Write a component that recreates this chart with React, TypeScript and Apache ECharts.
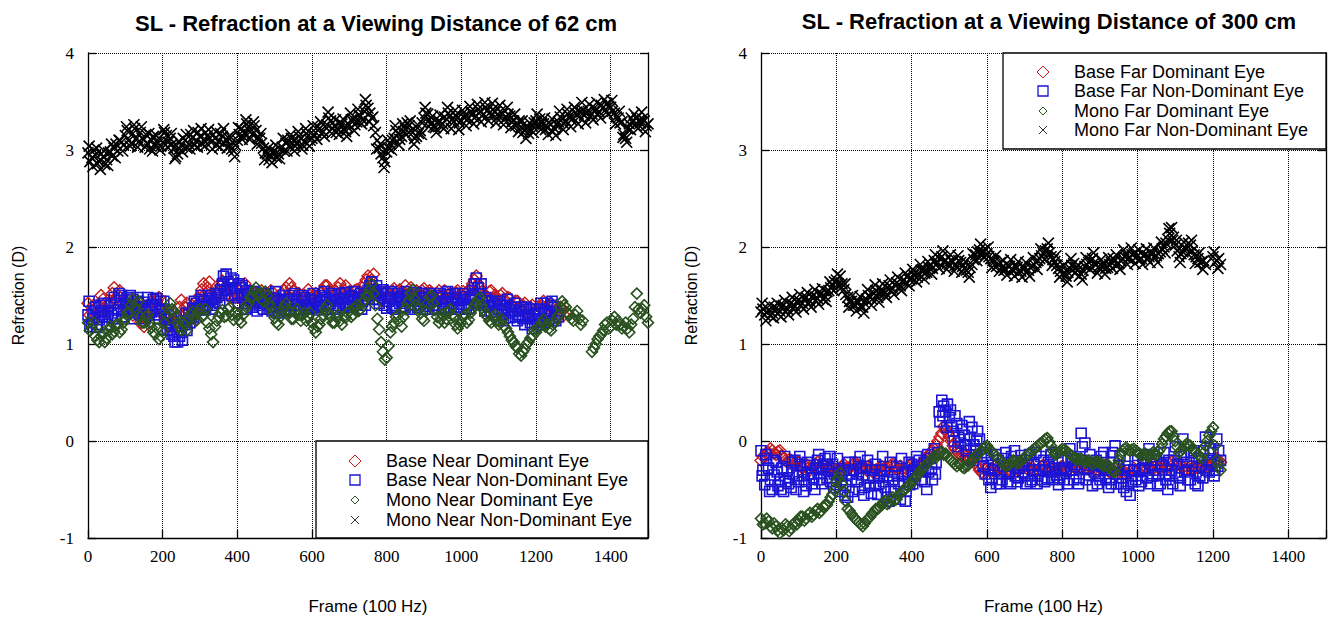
import React, { useEffect, useRef } from 'react';
import * as echarts from 'echarts';

// Values: main arrays at frames 0,10,20,...,
// mid arrays at frames 5,15,25,..., alt arrays at frames 3,13,23,...
const STEP = 10;

// ---- Left panel: viewing distance 62 cm ----
const nearBaseDom = [
  1.42,1.35,1.28,1.40,1.46,1.32,1.44,1.58,1.50,1.42,
  1.36,1.45,1.30,1.40,1.22,1.18,1.35,1.44,1.38,1.48,
  1.32,1.26,1.20,1.15,1.28,1.45,1.38,1.33,1.22,1.40,
  1.50,1.62,1.58,1.52,1.46,1.55,1.65,1.60,1.48,1.56,
  1.42,1.52,1.62,1.47,1.40,1.53,1.45,1.50,1.42,1.55,
  1.47,1.38,1.52,1.58,1.62,1.55,1.48,1.42,1.50,1.56,
  1.44,1.52,1.47,1.55,1.60,1.53,1.46,1.58,1.51,1.60,
  1.54,1.48,1.56,1.50,1.62,1.70,1.66,1.58,1.52,1.45,
  1.55,1.50,1.57,1.49,1.54,1.60,1.52,1.46,1.55,1.50,
  1.57,1.48,1.53,1.47,1.55,1.50,1.46,1.52,1.48,1.55,
  1.50,1.47,1.56,1.62,1.70,1.58,1.52,1.48,1.55,1.50,
  1.45,1.52,1.42,1.47,1.38,1.44,1.35,1.42,1.32,1.40,
  1.30,1.38,1.44,1.35,1.42,1.37,1.30,1.36,1.33,
];
const nearBaseDomMid = [
  1.30,1.40,1.34,1.50,1.38,1.40,1.52,1.46,1.55,1.38,
  1.42,1.36,1.44,1.30,1.28,1.26,1.40,1.34,1.45,1.38,
  1.28,1.18,1.25,1.22,1.38,1.32,1.42,1.26,1.32,1.46,
  1.56,1.52,1.64,1.45,1.52,1.60,1.55,1.52,1.62,1.48,
  1.48,1.58,1.52,1.44,1.48,1.42,1.55,1.46,1.50,1.45,
  1.42,1.46,1.55,1.50,1.58,1.45,1.52,1.47,1.44,1.50,
  1.50,1.45,1.53,1.60,1.55,1.48,1.54,1.62,1.56,1.52,
  1.50,1.55,1.48,1.58,1.66,1.62,1.72,1.50,1.48,1.52,
  1.48,1.55,1.52,1.56,1.50,1.54,1.58,1.52,1.47,1.55,
  1.52,1.55,1.48,1.52,1.48,1.55,1.50,1.45,1.53,1.48,
  1.54,1.52,1.50,1.66,1.62,1.54,1.48,1.54,1.47,1.48,
  1.50,1.46,1.48,1.40,1.44,1.38,1.40,1.36,1.38,1.34,
  1.35,1.40,1.38,1.40,1.33,1.34,1.38,1.30,
];
const nearBaseNonDom = [
  1.30,1.22,1.38,1.25,1.34,1.20,1.40,1.48,1.35,1.50,
  1.42,1.33,1.46,1.38,1.30,1.43,1.48,1.33,1.41,1.26,
  1.36,1.22,1.15,1.08,1.02,1.12,1.20,1.30,1.37,1.42,
  1.38,1.44,1.40,1.47,1.43,1.50,1.62,1.72,1.58,1.66,
  1.50,1.58,1.42,1.52,1.38,1.47,1.40,1.36,1.44,1.38,
  1.47,1.32,1.42,1.36,1.50,1.40,1.46,1.35,1.48,1.41,
  1.37,1.45,1.50,1.39,1.46,1.42,1.50,1.40,1.47,1.53,
  1.43,1.49,1.41,1.52,1.46,1.55,1.64,1.50,1.42,1.56,
  1.37,1.48,1.40,1.52,1.44,1.38,1.50,1.45,1.53,1.41,
  1.47,1.39,1.50,1.44,1.36,1.48,1.42,1.51,1.38,1.45,
  1.41,1.49,1.37,1.55,1.68,1.52,1.40,1.45,1.33,1.42,
  1.36,1.30,1.40,1.27,1.35,1.24,1.38,1.20,1.30,1.16,
  1.26,1.36,1.22,1.42,1.30,1.38,1.28,
];
const nearBaseNonDomMid = [
  1.18,1.32,1.20,1.40,1.28,1.34,1.26,1.42,1.45,1.34,
  1.48,1.40,1.32,1.44,1.38,1.30,1.40,1.46,1.30,1.44,
  1.28,1.30,1.10,1.18,1.08,1.24,1.14,1.26,1.44,1.35,
  1.46,1.38,1.45,1.40,1.48,1.56,1.55,1.64,1.50,1.58,
  1.62,1.48,1.55,1.44,1.50,1.42,1.46,1.42,1.36,1.45,
  1.38,1.45,1.34,1.46,1.44,1.36,1.40,1.44,1.38,1.46,
  1.42,1.38,1.44,1.48,1.40,1.46,1.44,1.52,1.42,1.46,
  1.50,1.44,1.48,1.44,1.52,1.60,1.56,1.46,1.52,1.48,
  1.44,1.38,1.48,1.42,1.50,1.45,1.40,1.50,1.44,1.48,
  1.42,1.46,1.40,1.50,1.44,1.38,1.47,1.42,1.48,1.38,
  1.46,1.40,1.48,1.62,1.58,1.44,1.48,1.38,1.40,1.34,
  1.40,1.36,1.32,1.38,1.28,1.34,1.26,1.36,1.22,1.30,
  1.32,1.24,1.34,1.26,1.40,1.32,
];
const nearBaseNonDomAlt = [
  1.44,1.26,1.17,1.33,1.42,1.28,1.32,1.26,1.52,1.28,
  1.36,1.50,1.26,1.48,1.36,1.26,1.30,1.40,1.47,1.34,
  1.44,1.14,1.26,1.02,1.18,1.04,1.32,1.22,1.28,1.36,
  1.50,1.35,1.50,1.36,1.52,1.42,1.70,1.56,1.68,1.48,
  1.42,1.60,1.36,1.46,1.54,1.34,1.52,1.48,1.52,1.34,
  1.54,1.40,1.50,1.44,1.34,1.52,1.36,1.50,1.40,1.36,
  1.52,1.35,1.40,1.54,1.36,1.52,1.36,1.46,1.38,1.40,
  1.38,1.54,1.46,1.36,1.40,1.50,1.46,1.60,1.54,1.40,
  1.52,1.54,1.36,1.46,1.38,1.54,1.36,1.40,1.38,1.52,
  1.36,1.52,1.36,1.40,1.52,1.36,1.54,1.36,1.52,1.36,
  1.52,1.36,1.46,1.50,1.42,1.62,1.34,1.38,1.44,1.30,
  1.44,1.24,1.46,1.34,1.42,1.30,1.28,1.38,1.28,1.36,
  1.20,1.42,1.32,1.24,1.44,1.24,
];
const nearMonoDom = [
  1.22,1.16,1.08,1.02,1.12,1.06,1.18,1.13,1.20,1.15,
  1.26,1.32,1.46,1.36,1.28,1.22,1.30,1.17,1.10,1.05,
  1.14,1.30,1.42,1.34,1.22,1.14,1.20,1.26,1.33,1.24,
  1.36,1.30,1.22,1.10,1.18,1.28,1.35,1.29,1.38,1.25,
  1.30,1.22,1.36,1.42,1.48,1.58,1.52,1.44,1.50,1.38,
  1.27,1.20,1.34,1.42,1.32,1.26,1.36,1.24,1.32,1.28,
  1.22,1.12,1.20,1.30,1.40,1.28,1.22,1.30,1.20,1.27,
  1.34,1.30,1.40,1.36,1.45,1.50,1.62,1.40,1.15,0.92,
  0.86,1.12,1.22,1.30,1.18,1.36,1.45,1.56,1.40,1.32,
  1.24,1.42,1.50,1.35,1.22,1.30,1.26,1.36,1.28,1.16,
  1.22,1.30,1.25,1.36,1.42,1.48,1.35,1.28,1.22,1.30,
  1.20,1.25,1.16,1.08,1.02,0.96,0.88,0.95,1.02,1.08,
  1.12,1.18,1.25,1.20,1.14,1.22,1.30,1.44,1.38,1.30,
  1.24,1.34,1.20,null,null,0.92,1.00,1.08,1.14,1.22,
  1.18,1.28,1.24,1.16,1.22,1.12,1.26,1.52,1.32,1.40,
  1.22,
];
const nearMonoDomMid = [
  1.14,1.22,1.04,1.08,1.02,1.14,1.10,1.20,1.12,1.22,
  1.32,1.40,1.38,1.44,1.22,1.28,1.22,1.12,1.16,1.08,
  1.22,1.36,1.36,1.28,1.18,1.22,1.14,1.30,1.28,1.32,
  1.28,1.36,1.16,1.02,1.24,1.32,1.28,1.36,1.30,1.32,
  1.25,1.30,1.40,1.48,1.54,1.50,1.46,1.54,1.42,1.32,
  1.22,1.28,1.38,1.36,1.26,1.32,1.30,1.30,1.24,1.32,
  1.16,1.18,1.26,1.36,1.32,1.22,1.28,1.24,1.28,1.32,
  1.28,1.36,1.34,1.42,1.50,1.56,1.52,1.26,1.02,0.84,
  0.98,1.18,1.28,1.24,1.28,1.42,1.52,1.46,1.36,1.26,
  1.34,1.48,1.42,1.28,1.26,1.22,1.32,1.30,1.20,1.20,
  1.28,1.22,1.32,1.40,1.46,1.40,1.30,1.24,1.28,1.24,
  1.22,1.18,1.12,1.04,0.98,0.90,0.92,1.00,1.06,1.14,
  1.16,1.22,1.18,1.16,1.20,1.26,1.38,1.40,1.32,1.26,
  1.30,1.26,1.24,null,null,0.96,1.05,1.10,1.20,1.16,
  1.24,1.20,1.20,1.18,1.16,1.20,1.38,1.36,1.36,1.28,
];
const nearMonoNonDom = [
  2.97,2.92,2.95,2.88,2.93,2.90,2.98,3.02,2.99,3.08,
  3.15,3.10,3.17,3.12,3.18,3.11,3.06,3.10,3.04,3.12,
  3.08,3.15,3.12,3.02,2.96,3.05,3.10,3.06,3.13,3.09,
  3.14,3.10,3.15,3.08,3.12,3.09,3.14,3.11,3.05,2.99,
  3.10,3.22,3.18,3.24,3.16,3.20,3.12,3.02,2.96,2.94,
  2.99,2.96,3.03,3.07,3.04,3.10,3.08,3.12,3.09,3.15,
  3.12,3.18,3.22,3.19,3.26,3.30,3.25,3.21,3.27,3.19,
  3.26,3.32,3.29,3.35,3.40,3.43,3.33,3.18,3.02,2.92,
  2.98,3.06,3.12,3.17,3.14,3.22,3.25,3.18,3.14,3.20,
  3.33,3.37,3.28,3.23,3.30,3.27,3.32,3.35,3.29,3.33,
  3.30,3.36,3.33,3.38,3.35,3.40,3.37,3.41,3.36,3.39,
  3.35,3.37,3.33,3.35,3.30,3.27,3.24,3.20,3.17,3.25,
  3.30,3.32,3.27,3.23,3.26,3.22,3.29,3.32,3.30,3.35,
  3.33,3.37,3.39,3.36,3.40,3.37,3.42,3.39,3.44,3.48,
  3.44,3.38,3.33,3.29,3.12,3.27,3.30,3.33,3.28,3.30,
  3.27,
];
const nearMonoNonDomMid = [
  2.88,3.00,2.86,2.96,2.85,2.97,2.94,3.06,3.10,3.05,
  3.20,3.07,3.22,3.08,3.12,3.16,3.01,3.14,3.08,3.04,
  3.18,3.08,3.06,2.93,3.01,3.12,3.02,3.16,3.05,3.18,
  3.06,3.18,3.12,3.16,3.05,3.17,3.07,3.13,3.01,3.05,
  3.16,3.14,3.27,3.19,3.25,3.13,3.07,2.97,2.90,2.98,
  2.92,3.01,2.99,3.10,3.12,3.04,3.14,3.05,3.17,3.10,
  3.16,3.24,3.17,3.24,3.33,3.22,3.18,3.28,3.22,3.24,
  3.31,3.26,3.36,3.31,3.46,3.38,3.25,3.10,2.96,2.88,
  3.02,3.10,3.20,3.11,3.19,3.28,3.20,3.12,3.17,3.28,
  3.38,3.31,3.24,3.28,3.25,3.34,3.38,3.31,3.36,3.28,
  3.34,3.31,3.39,3.33,3.42,3.35,3.44,3.38,3.42,3.33,
  3.40,3.32,3.37,3.29,3.25,3.30,3.18,3.23,3.21,3.28,
  3.26,3.28,3.21,3.28,3.19,3.26,3.34,3.27,3.37,3.31,
  3.38,3.34,3.41,3.39,3.35,3.43,3.37,3.46,3.41,3.45,
  3.40,3.34,3.28,3.16,3.22,3.33,3.26,3.30,3.32,3.25,
];
const nearMonoNonDomAlt = [
  3.04,2.83,3.02,2.80,2.99,2.84,3.06,2.92,3.10,2.99,
  3.24,3.04,3.26,3.03,3.24,3.03,3.17,2.99,3.15,3.00,
  3.21,3.03,3.17,2.91,3.09,2.98,3.16,3.01,3.20,3.03,
  3.22,3.04,3.21,3.01,3.19,3.03,3.22,3.02,3.13,2.93,
  3.23,3.11,3.31,3.11,3.29,3.06,3.17,2.90,3.02,2.87,
  3.05,2.91,3.12,2.99,3.16,2.99,3.19,3.01,3.22,3.04,
  3.25,3.11,3.29,3.14,3.39,3.17,3.31,3.16,3.32,3.14,
  3.38,3.20,3.42,3.27,3.52,3.29,3.34,3.01,3.06,2.82,
  3.10,3.00,3.25,3.05,3.27,3.16,3.30,3.06,3.26,3.16,
  3.44,3.24,3.35,3.18,3.36,3.22,3.44,3.22,3.41,3.21,
  3.41,3.25,3.45,3.27,3.47,3.29,3.49,3.30,3.48,3.28,
  3.46,3.26,3.44,3.23,3.37,3.19,3.30,3.12,3.28,3.18,
  3.37,3.21,3.33,3.16,3.32,3.15,3.40,3.21,3.42,3.24,
  3.44,3.27,3.49,3.28,3.47,3.31,3.49,3.33,3.52,3.37,
  3.51,3.27,3.40,3.13,3.08,3.21,3.37,3.22,3.39,3.19,
];

// ---- Right panel: viewing distance 300 cm ----
const farBaseDom = [
  -0.20,-0.15,-0.12,-0.10,-0.14,-0.10,-0.18,-0.22,-0.20,-0.25,
  -0.22,-0.28,-0.24,-0.30,-0.26,-0.22,-0.28,-0.25,-0.30,-0.27,
  -0.32,-0.28,-0.24,-0.30,-0.26,-0.22,-0.28,-0.25,-0.30,-0.27,
  -0.33,-0.29,-0.26,-0.30,-0.27,-0.24,-0.29,-0.26,-0.30,-0.27,
  -0.24,-0.28,-0.25,-0.22,-0.18,-0.12,-0.08,0.00,0.08,0.12,
  0.05,-0.05,-0.10,-0.15,-0.12,-0.18,-0.15,-0.22,-0.30,-0.34,
  -0.28,-0.32,-0.26,-0.30,-0.27,-0.33,-0.29,-0.26,-0.31,-0.28,
  -0.25,-0.30,-0.27,-0.32,-0.28,-0.25,-0.30,-0.27,-0.32,-0.29,
  -0.26,-0.31,-0.28,-0.25,-0.30,-0.27,-0.24,-0.29,-0.26,-0.31,
  -0.28,-0.25,-0.30,-0.33,-0.28,-0.32,-0.30,-0.35,-0.32,-0.28,
  -0.31,-0.27,-0.30,-0.26,-0.29,-0.25,-0.28,-0.24,-0.27,-0.22,
  -0.26,-0.23,-0.27,-0.30,-0.26,-0.29,-0.25,-0.28,-0.24,-0.27,
  -0.22,-0.18,-0.22,
];
const farBaseDomMid = [
  -0.16,-0.12,-0.08,-0.13,-0.11,-0.15,-0.20,-0.19,-0.24,-0.21,
  -0.26,-0.25,-0.28,-0.27,-0.24,-0.26,-0.24,-0.28,-0.26,-0.30,
  -0.29,-0.26,-0.28,-0.27,-0.24,-0.25,-0.27,-0.28,-0.26,-0.31,
  -0.30,-0.27,-0.29,-0.28,-0.25,-0.27,-0.28,-0.29,-0.28,-0.25,
  -0.26,-0.27,-0.23,-0.20,-0.15,-0.10,-0.04,0.04,0.15,0.09,
  0.00,-0.08,-0.13,-0.13,-0.16,-0.17,-0.19,-0.26,-0.32,-0.30,
  -0.30,-0.29,-0.28,-0.28,-0.30,-0.31,-0.27,-0.29,-0.30,-0.26,
  -0.28,-0.29,-0.30,-0.30,-0.26,-0.28,-0.29,-0.30,-0.31,-0.27,
  -0.29,-0.30,-0.26,-0.28,-0.29,-0.25,-0.27,-0.28,-0.29,-0.30,
  -0.27,-0.28,-0.32,-0.30,-0.30,-0.31,-0.33,-0.34,-0.30,-0.30,
  -0.29,-0.28,-0.28,-0.27,-0.27,-0.27,-0.26,-0.26,-0.24,-0.24,
  -0.25,-0.25,-0.29,-0.28,-0.28,-0.27,-0.27,-0.26,-0.26,-0.25,
  -0.20,-0.20,
];
const farBaseNonDom = [
  -0.10,-0.45,-0.28,-0.50,-0.22,-0.40,-0.52,-0.30,-0.48,-0.20,
  -0.42,-0.32,-0.46,-0.25,-0.38,-0.20,-0.33,-0.18,-0.30,-0.24,
  -0.45,-0.52,-0.30,-0.58,-0.40,-0.22,-0.50,-0.35,-0.26,-0.46,
  -0.38,-0.55,-0.30,-0.48,-0.62,-0.40,-0.26,-0.60,-0.42,-0.32,
  -0.24,-0.36,-0.20,-0.30,-0.50,-0.18,-0.08,-0.12,0.42,0.30,
  0.24,0.10,0.18,-0.02,0.06,-0.18,0.14,-0.10,0.02,-0.26,
  -0.15,-0.48,-0.30,-0.20,-0.40,-0.12,-0.33,-0.22,-0.42,-0.15,
  -0.36,-0.25,-0.40,-0.12,-0.30,-0.20,-0.38,-0.14,-0.28,-0.45,
  -0.18,-0.32,-0.08,-0.40,-0.24,0.08,-0.02,-0.35,-0.46,-0.20,
  -0.40,-0.12,-0.30,-0.44,-0.05,-0.25,-0.38,-0.52,-0.56,-0.30,
  -0.15,-0.42,-0.28,-0.08,-0.36,-0.20,-0.44,-0.12,-0.50,-0.30,
  -0.06,-0.38,0.02,-0.22,-0.40,-0.10,-0.46,-0.25,0.04,-0.32,
  -0.12,0.02,-0.20,
];
const farBaseNonDomMid = [
  -0.30,-0.18,-0.40,-0.35,-0.46,-0.28,-0.42,-0.38,-0.34,-0.36,
  -0.24,-0.40,-0.34,-0.44,-0.28,-0.40,-0.26,-0.38,-0.42,-0.34,
  -0.32,-0.40,-0.46,-0.34,-0.30,-0.42,-0.28,-0.48,-0.38,-0.30,
  -0.46,-0.36,-0.42,-0.36,-0.50,-0.32,-0.44,-0.34,-0.52,-0.45,
  -0.30,-0.26,-0.40,-0.42,-0.32,-0.40,-0.22,0.20,0.36,0.38,
  0.16,0.26,0.04,0.12,-0.10,0.02,-0.04,0.10,-0.16,-0.34,
  -0.40,-0.25,-0.44,-0.32,-0.26,-0.42,-0.16,-0.36,-0.28,-0.32,
  -0.20,-0.42,-0.24,-0.36,-0.40,-0.30,-0.26,-0.40,-0.35,-0.30,
  -0.40,-0.20,-0.30,-0.18,-0.38,-0.20,-0.28,-0.22,-0.32,-0.36,
  -0.26,-0.38,-0.40,-0.22,-0.34,-0.44,-0.30,-0.44,-0.42,-0.40,
  -0.30,-0.20,-0.38,-0.24,-0.30,-0.34,-0.26,-0.40,-0.36,-0.20,
  -0.24,-0.16,-0.32,-0.30,-0.26,-0.32,-0.36,-0.10,-0.20,-0.24,
  -0.30,-0.10,
];
const farBaseNonDomAlt = [
  -0.36,-0.14,-0.52,-0.20,-0.32,-0.50,-0.16,-0.44,-0.22,-0.50,
  -0.16,-0.52,-0.22,-0.34,-0.50,-0.14,-0.44,-0.24,-0.16,-0.48,
  -0.18,-0.36,-0.56,-0.22,-0.52,-0.34,-0.16,-0.56,-0.20,-0.54,
  -0.24,-0.44,-0.16,-0.58,-0.22,-0.52,-0.36,-0.18,-0.62,-0.22,
  -0.44,-0.16,-0.30,-0.22,-0.14,-0.28,-0.34,0.30,0.26,0.14,
  0.32,0.00,-0.06,0.16,-0.04,0.20,-0.20,0.00,-0.08,-0.12,
  -0.28,-0.38,-0.14,-0.44,-0.18,-0.34,-0.44,-0.10,-0.38,-0.24,
  -0.44,-0.14,-0.30,-0.44,-0.16,-0.42,-0.22,-0.32,-0.12,-0.38,
  -0.28,-0.44,-0.16,-0.26,-0.44,-0.06,-0.40,-0.14,-0.24,-0.44,
  -0.16,-0.30,-0.48,-0.12,-0.44,-0.16,-0.48,-0.26,-0.36,-0.20,
  -0.46,-0.30,-0.14,-0.44,-0.16,-0.46,-0.24,-0.34,-0.20,-0.44,
  -0.32,-0.46,-0.14,-0.40,-0.12,-0.44,-0.18,-0.38,-0.30,-0.08,
  -0.36,-0.26,
];
const farMonoDom = [
  -0.80,-0.85,-0.83,-0.90,-0.88,-0.95,-0.92,-0.88,-0.90,-0.84,
  -0.82,-0.78,-0.80,-0.74,-0.76,-0.70,-0.72,-0.66,-0.62,-0.55,
  -0.42,-0.33,-0.52,-0.70,-0.75,-0.80,-0.84,-0.88,-0.82,-0.78,
  -0.73,-0.70,-0.66,-0.62,-0.64,-0.58,-0.60,-0.54,-0.50,-0.47,
  -0.42,-0.38,-0.33,-0.28,-0.24,-0.20,-0.16,-0.14,-0.11,-0.13,
  -0.18,-0.22,-0.26,-0.24,-0.28,-0.25,-0.20,-0.15,-0.12,-0.08,
  -0.05,-0.10,-0.14,-0.18,-0.22,-0.26,-0.24,-0.20,-0.23,-0.21,
  -0.17,-0.13,-0.10,-0.07,-0.03,0.00,0.03,-0.05,-0.14,-0.12,
  -0.08,-0.10,-0.14,-0.17,-0.20,-0.18,-0.22,-0.20,-0.24,-0.21,
  -0.23,-0.26,-0.24,-0.30,-0.32,-0.20,-0.10,-0.07,-0.10,-0.08,
  -0.12,-0.15,-0.13,-0.16,-0.12,-0.14,-0.08,0.02,0.08,0.10,
  0.00,-0.12,-0.08,-0.03,-0.05,-0.10,-0.14,-0.18,-0.05,0.06,
  0.14,-0.20,-0.30,
];
const farMonoDomMid = [
  -0.86,-0.80,-0.88,-0.85,-0.92,-0.90,-0.86,-0.93,-0.86,-0.86,
  -0.78,-0.82,-0.76,-0.78,-0.72,-0.74,-0.68,-0.66,-0.58,-0.50,
  -0.38,-0.44,-0.62,-0.72,-0.78,-0.82,-0.86,-0.85,-0.80,-0.75,
  -0.70,-0.68,-0.63,-0.65,-0.60,-0.61,-0.56,-0.52,-0.49,-0.45,
  -0.40,-0.35,-0.30,-0.26,-0.22,-0.18,-0.17,-0.12,-0.14,-0.16,
  -0.20,-0.24,-0.23,-0.27,-0.26,-0.22,-0.18,-0.14,-0.10,-0.06,
  -0.08,-0.12,-0.16,-0.20,-0.24,-0.25,-0.22,-0.21,-0.22,-0.19,
  -0.15,-0.12,-0.08,-0.05,-0.02,0.02,-0.01,-0.10,-0.13,-0.10,
  -0.09,-0.12,-0.15,-0.18,-0.19,-0.20,-0.21,-0.22,-0.22,-0.22,
  -0.24,-0.25,-0.27,-0.31,-0.26,-0.14,-0.08,-0.09,-0.09,-0.10,
  -0.13,-0.14,-0.15,-0.14,-0.13,-0.11,-0.03,0.05,0.10,0.05,
  -0.06,-0.10,-0.05,-0.04,-0.08,-0.12,-0.16,-0.12,0.00,0.10,
  -0.05,-0.25,
];
const farMonoNonDom = [
  1.33,1.30,1.35,1.32,1.37,1.34,1.40,1.36,1.42,1.39,
  1.45,1.42,1.48,1.44,1.50,1.47,1.52,1.49,1.55,1.60,
  1.66,1.70,1.56,1.48,1.44,1.40,1.43,1.38,1.46,1.49,
  1.52,1.48,1.56,1.53,1.60,1.57,1.63,1.60,1.66,1.70,
  1.67,1.74,1.71,1.77,1.74,1.82,1.86,1.84,1.90,1.86,
  1.82,1.85,1.80,1.84,1.78,1.74,1.82,1.92,1.97,1.95,
  1.93,1.88,1.85,1.82,1.79,1.77,1.80,1.76,1.79,1.75,
  1.78,1.76,1.80,1.84,1.88,1.93,1.98,1.90,1.85,1.78,
  1.72,1.70,1.78,1.83,1.76,1.72,1.80,1.84,1.88,1.82,
  1.78,1.82,1.79,1.84,1.86,1.83,1.88,1.92,1.89,1.93,
  1.91,1.88,1.92,1.90,1.93,1.91,1.95,2.00,2.08,2.20,
  2.02,1.90,1.95,1.98,2.02,1.92,1.88,1.85,1.82,null,
  1.90,1.86,1.82,
];
const farMonoNonDomMid = [
  1.36,1.33,1.29,1.38,1.31,1.39,1.33,1.41,1.37,1.44,
  1.40,1.47,1.42,1.49,1.45,1.51,1.46,1.54,1.58,1.64,
  1.62,1.62,1.51,1.44,1.40,1.44,1.38,1.42,1.50,1.46,
  1.55,1.52,1.51,1.58,1.55,1.61,1.58,1.65,1.63,1.66,
  1.71,1.69,1.76,1.73,1.79,1.78,1.82,1.88,1.85,1.83,
  1.86,1.81,1.86,1.80,1.76,1.79,1.87,1.95,1.93,1.98,
  1.90,1.86,1.80,1.84,1.76,1.81,1.77,1.80,1.74,1.79,
  1.74,1.79,1.82,1.86,1.91,1.96,1.94,1.87,1.81,1.75,
  1.74,1.74,1.81,1.79,1.70,1.76,1.82,1.86,1.84,1.79,
  1.80,1.78,1.82,1.88,1.82,1.86,1.90,1.88,1.92,1.89,
  1.87,1.91,1.88,1.94,1.89,1.93,1.98,2.04,2.14,2.10,
  1.96,1.93,1.99,2.04,1.96,1.90,1.84,1.86,null,null,
  1.84,1.88,
];
const farMonoNonDomAlt = [
  1.42,1.24,1.40,1.27,1.42,1.28,1.45,1.30,1.48,1.33,
  1.51,1.36,1.53,1.38,1.56,1.41,1.57,1.44,1.64,1.55,
  1.72,1.58,1.62,1.38,1.50,1.34,1.49,1.32,1.56,1.40,
  1.61,1.43,1.62,1.48,1.66,1.51,1.69,1.55,1.73,1.60,
  1.77,1.64,1.82,1.67,1.85,1.72,1.92,1.78,1.96,1.77,
  1.92,1.75,1.91,1.74,1.85,1.69,1.93,1.86,2.03,1.89,
  2.00,1.79,1.91,1.75,1.86,1.71,1.87,1.70,1.85,1.69,
  1.84,1.70,1.89,1.77,1.98,1.87,2.04,1.81,1.91,1.69,
  1.81,1.64,1.88,1.73,1.81,1.66,1.89,1.77,1.94,1.73,
  1.87,1.72,1.89,1.78,1.92,1.77,1.97,1.82,1.99,1.83,
  1.97,1.82,1.98,1.84,1.99,1.84,2.05,1.94,2.19,2.07,
  2.07,1.84,2.05,1.93,2.07,1.83,1.94,1.77,null,null,
  1.95,1.78,
];

const titles = [
  'SL - Refraction at a Viewing Distance of 62 cm',
  'SL - Refraction at a Viewing Distance of 300 cm',
];
const leftNames = ['Base Near Dominant Eye', 'Base Near Non-Dominant Eye', 'Mono Near Dominant Eye', 'Mono Near Non-Dominant Eye'];
const rightNames = ['Base Far Dominant Eye', 'Base Far Non-Dominant Eye', 'Mono Far Dominant Eye', 'Mono Far Non-Dominant Eye'];
const xTicks = [0, 200, 400, 600, 800, 1000, 1200, 1400];

const RED = '#c41a1a';
const BLUE = '#1c14d4';
const GREEN = '#2a5220';
const BLACK = '#000000';
const SERIF = '"Liberation Serif", "Times New Roman", serif';
const SANS = '"Liberation Sans", Arial, Helvetica, sans-serif';
const CROSS = 'path://M0 0L10 10M10 0L0 10';

function toPoints(vals: (number | null)[], mids: (number | null)[], alts?: (number | null)[]) {
  const out: number[][] = [];
  vals.forEach((v, i) => {
    if (v !== null) out.push([i * STEP, v]);
    const a = alts ? alts[i] : undefined;
    if (a !== undefined && a !== null) out.push([i * STEP + 3, a]);
    const m = mids[i];
    if (m !== undefined && m !== null) out.push([i * STEP + STEP / 2, m]);
  });
  return out;
}

const styles = [
  { symbol: 'diamond', size: 12, color: RED, bw: 1.4 },
  { symbol: 'rect', size: 10, color: BLUE, bw: 1.6 },
  { symbol: 'diamond', size: 11, color: GREEN, bw: 1.6 },
  { symbol: CROSS, size: 11, color: BLACK, bw: 1.6 },
];

function legendGraphics(box: { x: number; y: number; w: number; h: number }, mx: number, tx: number, rows: number[], names: string[]) {
  const els: any[] = [];
  els.push({
    type: 'rect',
    shape: { x: box.x, y: box.y, width: box.w, height: box.h },
    style: { fill: '#ffffff', stroke: '#000000', lineWidth: 1.3 },
    z: 100,
  });
  rows.forEach((cy, i) => {
    if (i === 0) {
      els.push({ type: 'polygon', shape: { points: [[mx, cy - 6], [mx + 6, cy], [mx, cy + 6], [mx - 6, cy]] }, style: { fill: 'none', stroke: RED, lineWidth: 1 }, z: 101 });
    } else if (i === 1) {
      els.push({ type: 'rect', shape: { x: mx - 5, y: cy - 5, width: 10, height: 10 }, style: { fill: 'none', stroke: BLUE, lineWidth: 1.3 }, z: 101 });
    } else if (i === 2) {
      els.push({ type: 'polygon', shape: { points: [[mx, cy - 4], [mx + 4, cy], [mx, cy + 4], [mx - 4, cy]] }, style: { fill: 'none', stroke: GREEN, lineWidth: 1 }, z: 101 });
    } else {
      els.push({ type: 'line', shape: { x1: mx - 4, y1: cy - 4, x2: mx + 4, y2: cy + 4 }, style: { stroke: '#333', lineWidth: 1 }, z: 101 });
      els.push({ type: 'line', shape: { x1: mx + 4, y1: cy - 4, x2: mx - 4, y2: cy + 4 }, style: { stroke: '#333', lineWidth: 1 }, z: 101 });
    }
    els.push({
      type: 'text',
      style: { text: names[i], x: tx, y: cy, fill: '#000', fontSize: 18, fontFamily: SANS, verticalAlign: 'middle', align: 'left' },
      z: 101,
    });
  });
  return els;
}

export default function App() {
  const ref = useRef<HTMLDivElement>(null);

  useEffect(() => {
    if (!ref.current) return;
    const chart = echarts.init(ref.current, undefined, { renderer: 'svg' });

    const grids = [
      { left: 88, top: 53, width: 560, height: 485 },
      { left: 761, top: 53, width: 565, height: 485 },
    ];

    const xAxes = grids.map((_, i) => ({
      gridIndex: i,
      type: 'value',
      min: 0,
      max: 1500,
      interval: 200,
      name: 'Frame (100 Hz)',
      nameLocation: 'middle',
      nameGap: 60,
      nameTextStyle: { fontFamily: SANS, fontSize: 17, color: '#000' },
      axisLine: { show: true, onZero: false, lineStyle: { color: '#000', width: 1.3 } },
      axisTick: { show: true, inside: true, length: 8, lineStyle: { color: '#000', width: 1.3 } },
      axisLabel: {
        fontFamily: SERIF,
        fontSize: 17,
        color: '#000',
        margin: 10,
        formatter: (v: number) => (xTicks.indexOf(v) >= 0 ? String(v) : ''),
      },
      splitLine: { show: true, lineStyle: { color: '#000', type: 'dotted', width: 1 } },
    }));

    const yAxes: any[] = [];
    grids.forEach((_, i) => {
      yAxes.push({
        gridIndex: i,
        type: 'value',
        min: -1,
        max: 4,
        interval: 1,
        name: 'Refraction (D)',
        nameLocation: 'middle',
        nameGap: 62,
        nameTextStyle: { fontFamily: SANS, fontSize: 16, color: '#000' },
        axisLine: { show: true, onZero: false, lineStyle: { color: '#000', width: 1.3 } },
        axisTick: { show: true, inside: true, length: 8, lineStyle: { color: '#000', width: 1.3 } },
        axisLabel: { fontFamily: SERIF, fontSize: 17, color: '#000', margin: 14 },
        splitLine: { show: true, lineStyle: { color: '#000', type: 'dotted', width: 1 } },
      });
      yAxes.push({
        gridIndex: i,
        type: 'value',
        position: 'right',
        min: -1,
        max: 4,
        interval: 1,
        axisLine: { show: true, onZero: false, lineStyle: { color: '#000', width: 1.3 } },
        axisTick: { show: true, inside: true, length: 8, lineStyle: { color: '#000', width: 1.3 } },
        axisLabel: { show: false },
        splitLine: { show: false },
      });
    });

    const panels = [
      {
        names: leftNames,
        data: [nearBaseDom, nearBaseNonDom, nearMonoDom, nearMonoNonDom],
        mids: [nearBaseDomMid, nearBaseNonDomMid, nearMonoDomMid, nearMonoNonDomMid],
        alts: [undefined, nearBaseNonDomAlt, undefined, nearMonoNonDomAlt],
      },
      {
        names: rightNames,
        data: [farBaseDom, farBaseNonDom, farMonoDom, farMonoNonDom],
        mids: [farBaseDomMid, farBaseNonDomMid, farMonoDomMid, farMonoNonDomMid],
        alts: [undefined, farBaseNonDomAlt, undefined, farMonoNonDomAlt],
      },
    ];

    const series: any[] = [];
    panels.forEach((p, gi) => {
      p.data.forEach((vals, si) => {
        const st = styles[si];
        series.push({
          name: p.names[si],
          type: 'scatter',
          xAxisIndex: gi,
          yAxisIndex: gi * 2,
          symbol: st.symbol,
          symbolSize: st.size,
          itemStyle: { color: 'none', borderColor: st.color, borderWidth: st.bw, opacity: 1 },
          emphasis: { disabled: true },
          data: toPoints(vals, p.mids[si], p.alts[si]),
        });
      });
    });

    const graphic = [
      ...legendGraphics({ x: 316, y: 441, w: 332, h: 97 }, 355, 386, [461, 480, 500, 520], leftNames),
      ...legendGraphics({ x: 1003, y: 53, w: 323, h: 96 }, 1043, 1074, [72, 91, 111, 130], rightNames),
    ];

    chart.setOption({
      animation: false,
      backgroundColor: '#ffffff',
      title: [
        { text: titles[0], left: 371, top: 7, textAlign: 'center', textStyle: { fontFamily: SANS, fontWeight: 'bold', fontSize: 22, color: '#000' } },
        { text: titles[1], left: 1044, top: 5, textAlign: 'center', textStyle: { fontFamily: SANS, fontWeight: 'bold', fontSize: 22, color: '#000' } },
      ],
      grid: grids,
      xAxis: xAxes,
      yAxis: yAxes,
      series,
      graphic,
    });

    return () => chart.dispose();
  }, []);

  return <div ref={ref} style={{ position: 'fixed', left: 0, top: 0, width: 1330, height: 621, background: '#fff' }} />;
}
